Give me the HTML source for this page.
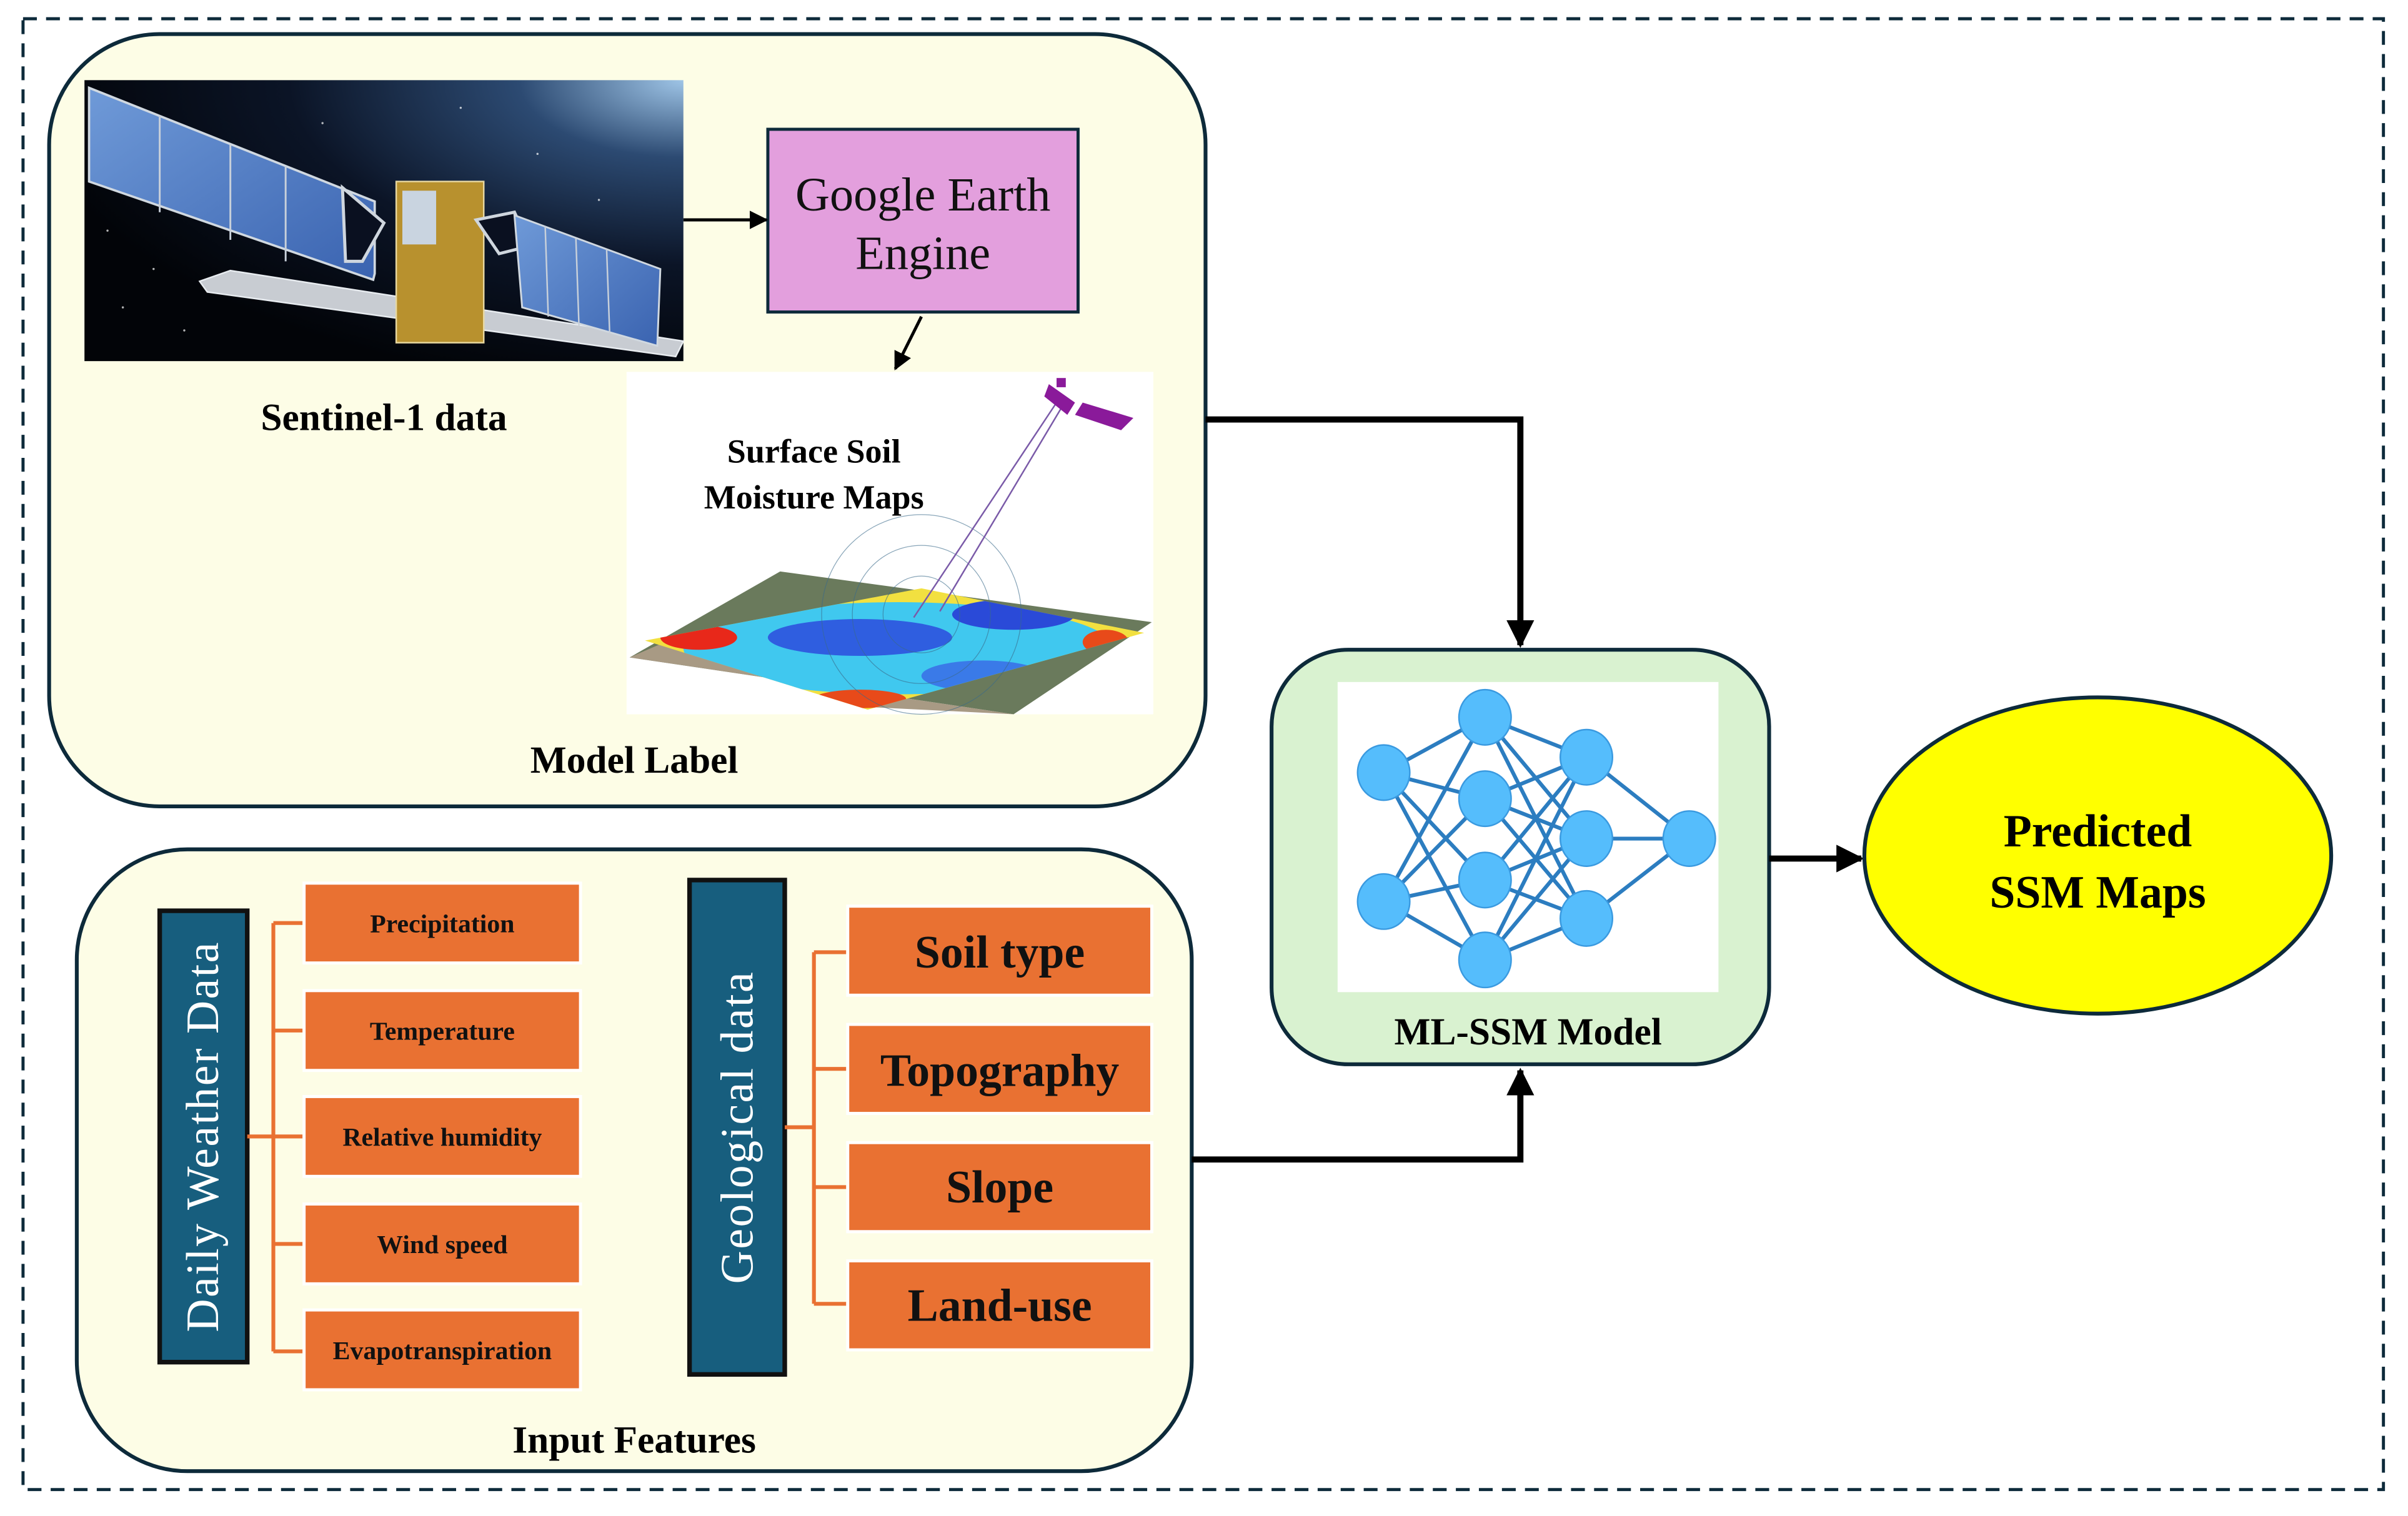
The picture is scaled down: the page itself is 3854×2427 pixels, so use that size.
<!DOCTYPE html>
<html><head><meta charset="utf-8"><style>html,body{margin:0;padding:0;background:#fff}svg{display:block}</style></head>
<body>
<svg width="3854" height="2427" viewBox="0 0 1568 987" xmlns="http://www.w3.org/2000/svg" style="font-family:'Liberation Serif','DejaVu Serif',serif">
<defs>
<marker id="ah" viewBox="0 0 10 10" refX="9" refY="5" markerWidth="4.5" markerHeight="4.5" orient="auto"><path d="M0,0 L10,5 L0,10 z" fill="#000"/></marker>
<marker id="ah2" viewBox="0 0 10 10" refX="9" refY="5" markerWidth="6" markerHeight="6" orient="auto"><path d="M0,0 L10,5 L0,10 z" fill="#000"/></marker>
<radialGradient id="space" cx="1" cy="0" r="1.1"><stop offset="0" stop-color="#9ec4e6"/><stop offset="0.25" stop-color="#2c4a72"/><stop offset="0.6" stop-color="#0b1426"/><stop offset="1" stop-color="#020408"/></radialGradient>
<linearGradient id="panel" x1="0" y1="0" x2="1" y2="1"><stop offset="0" stop-color="#6f9ad8"/><stop offset="1" stop-color="#3a63b0"/></linearGradient>
<clipPath id="mc"><polygon points="420,417 600,383 745,412 565,462"/></clipPath>
</defs>
<rect x="15" y="12" width="1537" height="958" fill="none" stroke="#0d2a3a" stroke-width="2" stroke-dasharray="9,6"/>
<!-- top box -->
<rect x="32" y="22" width="753" height="503" rx="72" fill="#fdfde6" stroke="#0d2a3a" stroke-width="2.5"/>
<rect x="55" y="52" width="390" height="183" fill="url(#space)"/>
<g fill="#fff" opacity="0.7"><circle cx="80" cy="200" r="0.7"/><circle cx="120" cy="215" r="0.7"/><circle cx="300" cy="70" r="0.7"/><circle cx="350" cy="100" r="0.7"/><circle cx="390" cy="130" r="0.7"/><circle cx="210" cy="80" r="0.7"/><circle cx="160" cy="190" r="0.7"/><circle cx="400" cy="210" r="0.7"/><circle cx="70" cy="150" r="0.7"/><circle cx="100" cy="175" r="0.7"/></g>
<polygon points="58,57 244,131 244,178 243,182 58,118" fill="url(#panel)" stroke="#d0d8e0" stroke-width="1.5"/>
<g stroke="#c8d0da" stroke-width="1.2"><line x1="104" y1="75" x2="104" y2="138"/><line x1="150" y1="94" x2="150" y2="156"/><line x1="186" y1="108" x2="186" y2="170"/></g>
<polygon points="223,122 250,145 236,170 225,170" fill="#0a1020" stroke="#cfd6de" stroke-width="2"/>
<polygon points="130,183 150,176 445,222 440,232 135,190" fill="#c8ccd2" stroke="#e8ecf0" stroke-width="1"/>
<rect x="258" y="118" width="57" height="105" fill="#b8912e" stroke="#e8d8a0" stroke-width="1"/>
<rect x="262" y="124" width="22" height="35" fill="#c9d4e0"/>
<polygon points="310,143 335,138 345,160 325,165" fill="#0a1020" stroke="#cfd6de" stroke-width="2"/>
<polygon points="335,140 430,175 428,225 340,200" fill="url(#panel)" stroke="#d0d8e0" stroke-width="1.2"/>
<g stroke="#c8d0da" stroke-width="1"><line x1="355" y1="147" x2="357" y2="206"/><line x1="375" y1="155" x2="377" y2="212"/><line x1="395" y1="162" x2="397" y2="217"/></g>
<!-- GEE -->
<rect x="500" y="84" width="202" height="119" fill="#e39fdd" stroke="#0d2a3a" stroke-width="2"/>
<text x="601" y="137" font-size="31" text-anchor="middle" fill="#111">Google Earth</text>
<text x="601" y="175" font-size="31" text-anchor="middle" fill="#111">Engine</text>
<line x1="445" y1="143" x2="499" y2="143" stroke="#000" stroke-width="2" marker-end="url(#ah2)"/>
<line x1="600" y1="206" x2="583" y2="240" stroke="#000" stroke-width="2" marker-end="url(#ah2)"/>
<text x="250" y="280" font-size="25" font-weight="bold" text-anchor="middle">Sentinel-1 data</text>
<!-- SSM map image -->
<rect x="408" y="242" width="343" height="223" fill="#fff"/>
<polygon points="410,428 508,372 750,405 660,465" fill="#6a7a5c"/>
<polygon points="410,428 440,415 560,460 660,465" fill="#a89a84"/>
<g clip-path="url(#mc)">
<rect x="400" y="370" width="360" height="100" fill="#f2e040"/>
<ellipse cx="585" cy="422" rx="140" ry="30" fill="#40c8ef"/>
<ellipse cx="560" cy="415" rx="60" ry="12" fill="#2f5ee0"/>
<ellipse cx="640" cy="440" rx="40" ry="10" fill="#3a7ae8"/>
<ellipse cx="660" cy="400" rx="40" ry="10" fill="#2a4ad8"/>
<ellipse cx="455" cy="415" rx="25" ry="8" fill="#e8281a"/>
<ellipse cx="720" cy="418" rx="15" ry="8" fill="#e84a1a"/>
<ellipse cx="560" cy="455" rx="30" ry="6" fill="#e84a1a"/>
</g>
<g fill="none" stroke="#3a6a8a" stroke-width="0.5" opacity="0.6"><circle cx="600" cy="400" r="25"/><circle cx="600" cy="400" r="45"/><circle cx="600" cy="400" r="65"/></g>
<line x1="595" y1="402" x2="688" y2="262" stroke="#7a5aa8" stroke-width="1"/>
<line x1="612" y1="398" x2="692" y2="264" stroke="#7a5aa8" stroke-width="1"/>
<g fill="#8a1a9a"><polygon points="683,250 700,262 695,270 680,258"/><polygon points="705,262 738,272 730,280 700,270"/><rect x="688" y="246" width="6" height="6"/></g>
<text x="530" y="301" font-size="22" font-weight="bold" text-anchor="middle">Surface Soil</text>
<text x="530" y="331" font-size="22" font-weight="bold" text-anchor="middle">Moisture Maps</text>
<text x="413" y="503" font-size="25" font-weight="bold" text-anchor="middle">Model Label</text>
<!-- bottom box -->
<rect x="50" y="553" width="726" height="405" rx="72" fill="#fdfde6" stroke="#0d2a3a" stroke-width="2.5"/>
<rect x="104" y="593" width="57" height="294" fill="#175e7e" stroke="#111" stroke-width="3"/>
<text transform="translate(142,740) rotate(-90)" font-size="30" text-anchor="middle" fill="#fff" letter-spacing="1">Daily Weather Data</text>
<g stroke="#e97132" stroke-width="2.5" fill="none">
<line x1="161" y1="740" x2="178" y2="740"/>
<line x1="178" y1="601" x2="178" y2="880"/>
<line x1="178" y1="601" x2="197" y2="601"/><line x1="178" y1="671" x2="197" y2="671"/><line x1="178" y1="740" x2="197" y2="740"/><line x1="178" y1="810" x2="197" y2="810"/><line x1="178" y1="880" x2="197" y2="880"/>
</g>
<g fill="#e97132" stroke="#fff" stroke-width="2">
<rect x="198" y="575" width="180" height="52"/><rect x="198" y="645" width="180" height="52"/><rect x="198" y="714" width="180" height="52"/><rect x="198" y="784" width="180" height="52"/><rect x="198" y="853" width="180" height="52"/>
</g>
<g font-size="17" font-weight="bold" text-anchor="middle" fill="#111">
<text x="288" y="607">Precipitation</text><text x="288" y="677">Temperature</text><text x="288" y="746">Relative humidity</text><text x="288" y="816">Wind speed</text><text x="288" y="885">Evapotranspiration</text>
</g>
<rect x="449" y="573" width="62" height="322" fill="#175e7e" stroke="#111" stroke-width="3"/>
<text transform="translate(490,734) rotate(-90)" font-size="30" text-anchor="middle" fill="#fff" letter-spacing="1">Geological data</text>
<g stroke="#e97132" stroke-width="2.5" fill="none">
<line x1="511" y1="734" x2="530" y2="734"/>
<line x1="530" y1="620" x2="530" y2="849"/>
<line x1="530" y1="620" x2="551" y2="620"/><line x1="530" y1="696" x2="551" y2="696"/><line x1="530" y1="773" x2="551" y2="773"/><line x1="530" y1="849" x2="551" y2="849"/>
</g>
<g fill="#e97132" stroke="#fff" stroke-width="2">
<rect x="552" y="590" width="198" height="58"/><rect x="552" y="667" width="198" height="58"/><rect x="552" y="744" width="198" height="58"/><rect x="552" y="821" width="198" height="58"/>
</g>
<g font-size="30" font-weight="bold" text-anchor="middle" fill="#111">
<text x="651" y="630">Soil type</text><text x="651" y="707">Topography</text><text x="651" y="783">Slope</text><text x="651" y="860">Land-use</text>
</g>
<text x="413" y="946" font-size="25" font-weight="bold" text-anchor="middle">Input Features</text>
<!-- connectors -->
<polyline points="785,273 990,273 990,420" fill="none" stroke="#000" stroke-width="4" marker-end="url(#ah)"/>
<polyline points="776,755 990,755 990,697" fill="none" stroke="#000" stroke-width="4" marker-end="url(#ah)"/>
<!-- ML box -->
<rect x="828" y="423" width="324" height="270" rx="50" fill="#d9f2d0" stroke="#0d2a3a" stroke-width="2.5"/>
<rect x="871" y="444" width="248" height="202" fill="#fff"/>
<g stroke="#2c7dc0" stroke-width="2.5">
<line x1="901" y1="503" x2="967" y2="467"/><line x1="901" y1="503" x2="967" y2="520"/><line x1="901" y1="503" x2="967" y2="573"/><line x1="901" y1="503" x2="967" y2="625"/>
<line x1="901" y1="587" x2="967" y2="467"/><line x1="901" y1="587" x2="967" y2="520"/><line x1="901" y1="587" x2="967" y2="573"/><line x1="901" y1="587" x2="967" y2="625"/>
<line x1="967" y1="467" x2="1033" y2="493"/><line x1="967" y1="467" x2="1033" y2="546"/><line x1="967" y1="467" x2="1033" y2="598"/>
<line x1="967" y1="520" x2="1033" y2="493"/><line x1="967" y1="520" x2="1033" y2="546"/><line x1="967" y1="520" x2="1033" y2="598"/>
<line x1="967" y1="573" x2="1033" y2="493"/><line x1="967" y1="573" x2="1033" y2="546"/><line x1="967" y1="573" x2="1033" y2="598"/>
<line x1="967" y1="625" x2="1033" y2="493"/><line x1="967" y1="625" x2="1033" y2="546"/><line x1="967" y1="625" x2="1033" y2="598"/>
<line x1="1033" y1="493" x2="1100" y2="546"/><line x1="1033" y1="546" x2="1100" y2="546"/><line x1="1033" y1="598" x2="1100" y2="546"/>
</g>
<g fill="#55bdfc" stroke="#3a9ae0" stroke-width="1">
<ellipse cx="901" cy="503" rx="17" ry="18"/><ellipse cx="901" cy="587" rx="17" ry="18"/>
<ellipse cx="967" cy="467" rx="17" ry="18"/><ellipse cx="967" cy="520" rx="17" ry="18"/><ellipse cx="967" cy="573" rx="17" ry="18"/><ellipse cx="967" cy="625" rx="17" ry="18"/>
<ellipse cx="1033" cy="493" rx="17" ry="18"/><ellipse cx="1033" cy="546" rx="17" ry="18"/><ellipse cx="1033" cy="598" rx="17" ry="18"/>
<ellipse cx="1100" cy="546" rx="17" ry="18"/>
</g>
<text x="995" y="680" font-size="25" font-weight="bold" text-anchor="middle">ML-SSM Model</text>
<line x1="1152" y1="559" x2="1212" y2="559" stroke="#000" stroke-width="4" marker-end="url(#ah)"/>
<ellipse cx="1366" cy="557" rx="152" ry="103" fill="#ffff00" stroke="#0d2a3a" stroke-width="2.5"/>
<text x="1366" y="551" font-size="30" font-weight="bold" text-anchor="middle">Predicted</text>
<text x="1366" y="591" font-size="30" font-weight="bold" text-anchor="middle">SSM Maps</text>
</svg>
</body></html>
